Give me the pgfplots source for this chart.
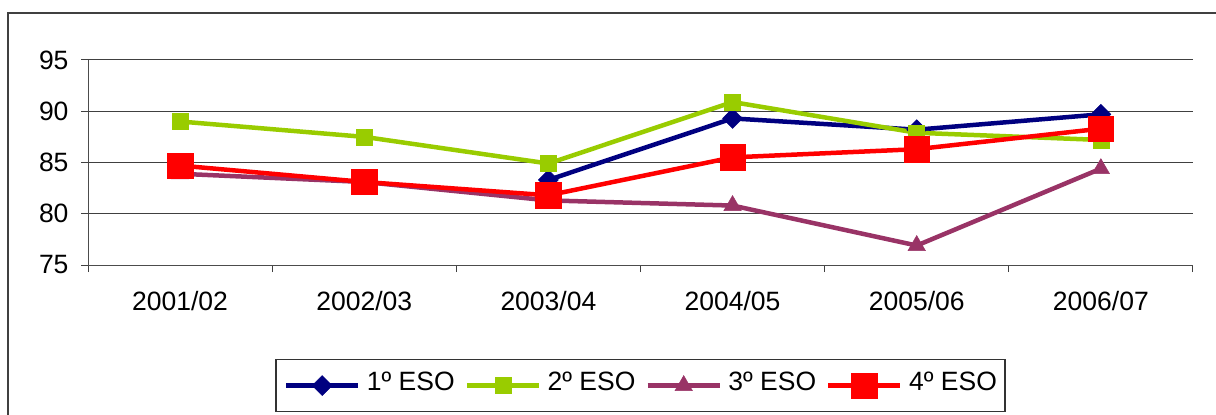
\documentclass[border=0pt]{standalone}
\usepackage{fontspec}
\setmainfont{Liberation Sans}
\usepackage{pgfplots}
\pgfplotsset{compat=1.18}
\definecolor{cA}{RGB}{0,0,128}
\definecolor{cB}{RGB}{153,204,0}
\definecolor{cC}{RGB}{153,51,102}
\definecolor{cD}{RGB}{255,0,0}
\newcommand{\lblfont}{\fontsize{26.5bp}{30bp}\selectfont}
\begin{document}
\begin{tikzpicture}[x=1bp,y=1bp]
\path[use as bounding box] (0,0) rectangle (1216,414);
\draw[line width=1.5bp, black!75] (8,-5) -- (8,401) -- (1225,401);
\begin{axis}[
  at={(88bp,149bp)}, anchor=south west,
  scale only axis, width=1105bp, height=205bp,
  xmin=-0.5, xmax=5.5, ymin=75, ymax=95,
  ytick={75,80,85,90,95},
  xtick={0,1,2,3,4,5},
  xticklabels={2001/02,2002/03,2003/04,2004/05,2005/06,2006/07},
  minor xtick={-0.5,0.5,1.5,2.5,3.5,4.5,5.5},
  major x tick style={draw=none},
  axis x line*=bottom, axis y line*=left,
  axis line style={-, black!70, line width=1bp},
  tick align=outside,
  tick style={black!75, line width=1bp},
  major tick length=7bp, minor tick length=7bp,
  ymajorgrids, grid style={black!75, line width=1bp},
  /pgf/number format/assume math mode=true,
  tick label style={font=\lblfont},
  yticklabel style={xshift=-9bp},
  xticklabel style={yshift=-16bp},
  legend style={at={(0.5,-0.4585)}, anchor=north, legend columns=4,
    draw=black!80, line width=1.2bp, inner xsep=8bp, inner ysep=0bp,
    font=\lblfont,
    nodes={inner xsep=0bp, inner ysep=0bp, text height=31bp, text depth=21bp},
    /tikz/every odd column/.append style={column sep=6.5bp},
    /tikz/every even column/.append style={column sep=10bp}},
  legend image code/.code={\draw[mark repeat=2,mark phase=2] plot coordinates {(0bp,0bp) (36bp,0bp) (72bp,0bp)};},
]
\addplot[color=cA, line width=4.5bp, mark=diamond*, mark size=10bp, mark options={solid, line width=0.5bp, xscale=1.33}]
  coordinates {(2,83.3) (3,89.3) (4,88.2) (5,89.7)};
\addlegendentry{1º ESO}
\addplot[color=cB, line width=4.5bp, mark=square*, mark size=8bp, mark options={solid, line width=0.5bp}]
  coordinates {(0,89.0) (1,87.5) (2,84.9) (3,90.9) (4,87.9) (5,87.2)};
\addlegendentry{2º ESO}
\addplot[color=cC, line width=4.5bp, mark=triangle*, mark size=10bp, mark options={solid, line width=0.5bp}]
  coordinates {(0,83.9) (1,83.1) (2,81.3) (3,80.8) (4,76.9) (5,84.4)};
\addlegendentry{3º ESO}
\addplot[color=cD, line width=4.5bp, mark=square*, mark size=12.75bp, mark options={solid, line width=0.5bp}]
  coordinates {(0,84.7) (1,83.1) (2,81.8) (3,85.5) (4,86.3) (5,88.3)};
\addlegendentry{4º ESO}
\end{axis}
\end{tikzpicture}
\end{document}
